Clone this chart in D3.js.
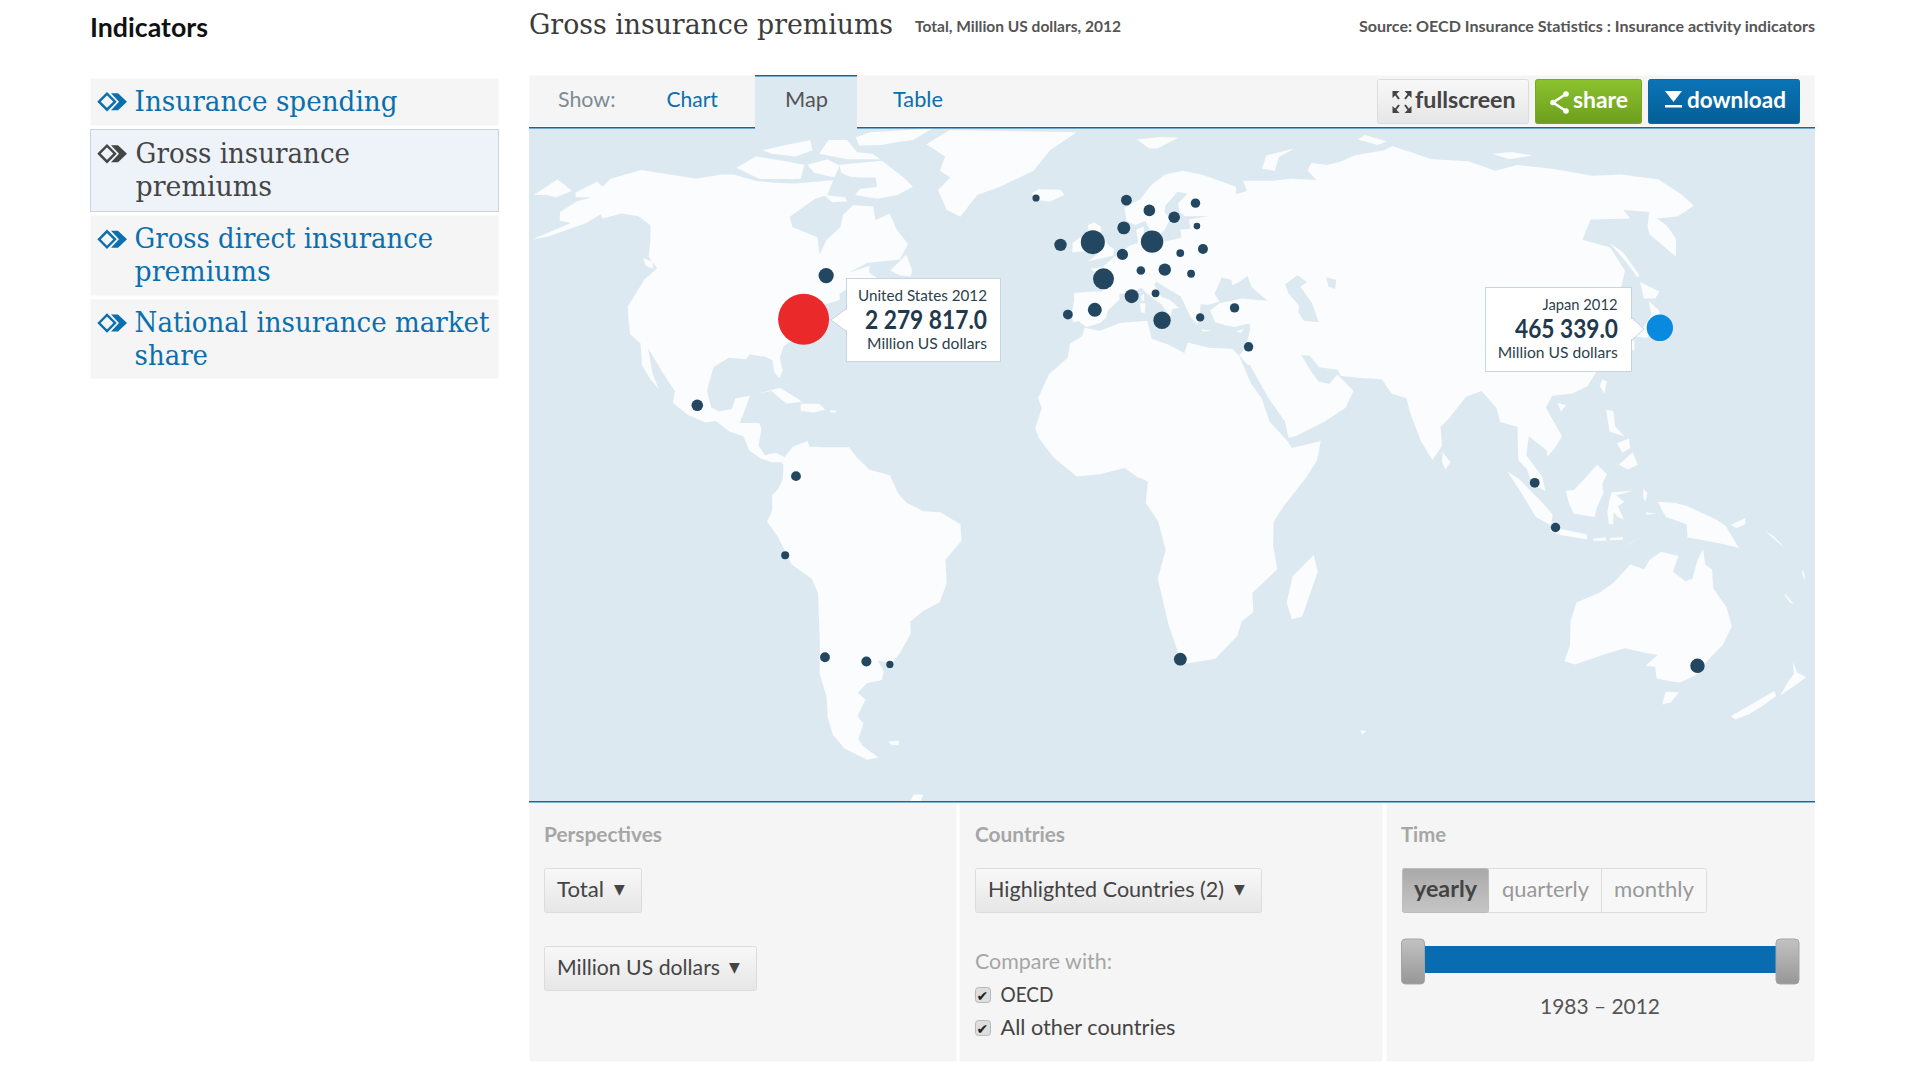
<!DOCTYPE html>
<html>
<head>
<meta charset="utf-8">
<title>Gross insurance premiums</title>
<script src="https://cdn.jsdelivr.net/npm/d3@7"></script>
<style>
html, body { margin: 0; padding: 0; background: #fff; }
svg { display: block; }
</style>
</head>
<body>
<div id="page"></div>
<script>
var countries = ["Canada","Mexico","Colombia","Iceland","Norway","Sweden","Finland","Estonia","Latvia","Denmark","Germany","United Kingdom","Ireland","Netherlands","Poland","Czech Republic","Austria","Luxembourg","Hungary","France","Italy","Spain","Portugal","Switzerland","Slovenia","Greece","Turkey","Israel","Malaysia","Indonesia","South Africa","Australia","Peru","Chile","Argentina","Uruguay"];
var lons = [-75.8,-99.5,-74.4,-22.4,5.7,12.5,19.7,26.9,26,4.6,12.5,-4.3,-13.4,4,26.6,20.1,15.4,8.9,22.4,-1.2,13.8,-3.4,-10.3,6.2,12.5,23.6,32.7,35.1,101.7,106.8,18.2,149.1,-77.4,-71.1,-60.9,-55.1];
var lats = [46.9,19.5,4.6,64.3,63.8,61.4,59.8,63.1,57.8,57.4,54.3,54.2,53.6,51.5,52.7,51.8,48.2,48,47.3,46.2,37.4,39.6,38.6,42.5,43.1,38,40,31.8,3.2,-6.2,-33.9,-35.3,-12.05,-33.5,-34.4,-35];
var values = [123000,63800,42500,20200,53700,63800,63800,38400,16300,83900,312000,369000,74800,58600,44600,24400,74800,31000,24400,267000,170000,100000,42500,100000,24400,29200,38400,38400,42500,38400,80900,108000,26000,42500,44600,20200];

var highlighted = ["United States", "Japan"];
var highlightedLons = [-77.8, 139.9];
var highlightedLats = [37.6, 35.8];
var highlightedValues = [2279817, 465339];
var highlightedText = ["2 279 817.0", "465 339.0"];

// Robinson table
var robinsonLat = [0,5,10,15,20,25,30,35,40,45,50,55,60,65,70,75,80,85,90];
var robinsonX = [1,.9986,.9954,.99,.9822,.973,.96,.9427,.9216,.8962,.8679,.835,.7986,.7597,.7186,.6732,.6213,.5722,.5322];
var robinsonY = [0,.062,.124,.186,.248,.31,.372,.434,.4958,.5571,.6176,.6769,.7346,.7903,.8435,.8936,.9394,.9761,1];

// land outlines, lon / lat
var northAmerica = [[-168,65.6],[-166,68.3],[-162,67],[-163,69],[-157,71.2],[-150,70.5],[-141,69.6],[-135,69],[-128,70],[-124,70],[-115,68.5],[-108,68],[-101,67.8],[-96,68.2],[-89.6,68.6],[-88,65],[-91,64.1],[-94.8,59.9],[-92.1,57.6],[-83.1,55.3],[-80,51.5],[-80.1,54.6],[-78.1,57.6],[-79.3,60.4],[-78,62.6],[-71.6,62.3],[-68.9,59.2],[-65.5,60.6],[-61.2,56.9],[-56.5,53.8],[-57.3,50.4],[-66,49.6],[-70,47.5],[-65,49],[-64.5,47.5],[-61,46],[-63.5,44.7],[-66,43.6],[-66.5,45],[-69,44],[-70.5,43],[-70,41.7],[-74,40.5],[-75.5,38],[-76,35],[-78,34],[-81,32],[-81.3,29.5],[-80,26.8],[-80.5,25.2],[-82,26.5],[-83,29],[-85,29.7],[-89,30.2],[-89.5,29.2],[-94,29.5],[-97.2,27.5],[-97.7,22.5],[-96,19],[-94,18.2],[-91,18.7],[-90.5,21],[-87,21.5],[-88,18],[-88.7,15.8],[-84,15.8],[-83.3,14.5],[-83.7,11],[-82,9],[-79.5,9.5],[-77.3,8.6],[-78,7.5],[-80.3,7.5],[-83,8.3],[-85.8,10],[-87.5,13],[-91,14],[-94.5,16.2],[-97,15.9],[-101.5,17.5],[-105.5,20],[-105.5,22.5],[-109,26],[-112.5,29.5],[-114.7,31.5],[-112,26.5],[-109.6,23],[-112,25],[-115,28],[-117,32.5],[-120.5,34.5],[-122.5,37.5],[-124.3,40.3],[-124,46],[-122.5,48.5],[-127,51],[-130,54.5],[-134,58],[-140,60],[-146,60.7],[-150,59.5],[-152,60.5],[-153.5,58.5],[-160,55.5],[-164,54.7],[-158,58.5],[-162,59],[-165,61],[-164,63.5],[-161,64.5],[-166,64.5]];
var southAmerica = [[-77.3,8.6],[-75.5,10.8],[-72,12],[-71.5,10.8],[-68,10.7],[-62,10.7],[-60,8.5],[-57,6],[-52,4.8],[-50,1],[-48,-1],[-44,-2.8],[-40,-3],[-35.2,-5.5],[-35,-9],[-39,-13],[-39,-18],[-41,-22],[-45,-23.7],[-48.5,-26],[-48.7,-28.5],[-52,-32.5],[-54.5,-34.8],[-58,-34.2],[-57,-36.5],[-58,-38.3],[-62,-39],[-65,-41],[-63.5,-42.5],[-67,-46],[-66,-47.5],[-69,-51],[-68.5,-52.5],[-65.5,-55],[-69,-55.5],[-74,-53],[-75.5,-50],[-75,-46],[-73.5,-42],[-73.5,-37],[-71.5,-30],[-70.3,-20],[-71.5,-17],[-76,-14],[-79,-8],[-81.3,-5],[-80,-2.5],[-80,0.5],[-78.5,2],[-77.5,4],[-77.5,7],[-78,7.5]];
var eurasia = [[-9.3,38.7],[-8.8,41.8],[-9,43.2],[-4,43.5],[-1.5,43.5],[-1.2,46],[-4.7,48.4],[-1.5,48.7],[1.5,50.8],[4,52],[6,53.4],[8.5,54],[8.2,57],[10.5,57.7],[10,54.8],[11,54],[14,54],[18.5,54.7],[21,55.2],[21,57],[24,57.2],[24,59.3],[30,60],[23,60],[21.5,61],[21.5,63],[25,65.3],[22,65.8],[17.5,62.5],[17,61],[18.5,59.5],[16.5,57],[14.5,55.7],[13,55.4],[11,59],[8,58],[5.5,59],[5,62],[10,64],[14,67.5],[19,70],[25,71],[31,70],[41,67],[40,64.8],[38,64.7],[44,66],[44,68.5],[54,68.5],[60,69],[68,68.7],[67,71],[70,73],[75,72.5],[81,73.5],[87,75],[100,76.5],[105,77.7],[113,74],[125,73.5],[130,71],[140,72.5],[150,71.5],[160,69.7],[170,70],[180,68.8],[180,65],[179,62.5],[170,60],[163,59.5],[163.5,58],[162,55],[157,51],[155.7,56],[158,58],[163,61],[156,61.5],[155,59.5],[143,59.3],[135,54.7],[141,53],[140,48],[135,43.5],[130.5,42.5],[127.5,39.8],[129.5,36.5],[127,34.5],[126.3,37],[125,39.7],[121.5,39],[118,39],[122.5,37],[119.5,35],[121.8,31],[120,26.5],[117,23.5],[113,22],[108,21.5],[106,19],[109,13],[107,10.5],[105,8.7],[105,10],[101,13],[100,9],[103.5,4.5],[104.2,1.4],[101,3],[100,6],[98,8],[98.5,15],[94.5,16],[94,19],[91,22.5],[87,21.3],[82,16.5],[80,15],[80,11],[77.5,8],[75,12],[73,18],[72.5,21],[69,22],[67,25],[61,25.3],[57,25.7],[56.5,27],[52,27.5],[50,30],[48,30],[50,26.5],[51.5,24.5],[54,24],[56.3,26],[59.8,22.5],[57.5,19],[52,16],[45,13],[43.3,12.7],[42.7,16],[39,21],[35,28],[34.5,28],[32.5,30],[34.2,31.3],[36,35.5],[36,36.7],[32,36],[30,36.3],[27.3,37],[26.3,39.5],[29,41],[35,42],[41.5,41.5],[38,44.5],[37.5,46.8],[35,45.5],[33,44.8],[33,46],[30.5,46.5],[28,43],[29,41.3],[26,40.7],[24,40.8],[23.5,38],[22.8,36.5],[21.2,38],[19.5,41.5],[19,42.5],[14,45],[13,45.7],[12.3,45],[14,42.3],[16,41.8],[18.4,40],[16.6,39.8],[15.8,38],[14,40.7],[11,42.5],[8.8,44.3],[6,43.1],[3,43],[3,41.8],[0,39.5],[-0.5,38],[-2,36.8],[-5.5,36],[-7.5,37.2],[-9,37]];
var africa = [[-5.9,35.8],[-2,35.2],[3,36.8],[10,37.3],[11,33.5],[15,32.3],[19,30.5],[20,32.7],[25,31.6],[31,31.4],[32.5,30],[35,24],[37.3,21],[39,16],[43,12],[44,10.5],[51,12],[50,8],[47,4],[42,-1.5],[39.5,-5],[39.5,-10],[40.7,-15],[35,-20],[35.5,-24],[32.8,-26],[32,-29],[27,-33.8],[20,-34.8],[18.3,-34],[15,-27],[12,-17],[13.8,-11],[12,-5],[9,-1],[9.5,3.5],[7,4.4],[4,6.3],[-2,5],[-7.5,4.5],[-13,8.5],[-16.5,12.5],[-17.5,14.7],[-16,19],[-17,21],[-14.5,26],[-10,29.5],[-9.5,32.5],[-6.5,34]];
var australia = [[114,-22],[113.5,-26],[115,-31],[115,-34.3],[118,-35],[124,-33],[129,-31.6],[134,-32.5],[137.8,-33],[136,-35.3],[138.5,-35.5],[140.5,-38],[144,-38.5],[147,-38.8],[150,-37.3],[151.2,-33.8],[153,-31],[153.5,-27],[150.8,-23],[146.5,-19],[145.3,-15],[143.5,-14],[142.5,-10.8],[141.5,-13],[141,-17],[139.5,-17.5],[136,-15.5],[136.8,-12.2],[132.5,-11.3],[130,-13],[129,-15],[125.5,-14],[122,-18],[119,-20]];
var greenland = [[-63.5,82.8],[-12.4,82],[-21,76.5],[-25,71],[-34.6,67],[-41,65],[-44,59.9],[-48.8,61.5],[-54,66.2],[-51.8,69.3],[-56.4,71],[-57.4,74.7],[-67.5,78.2]];
var islands = [
  [[-180,68.8],[-175,67.5],[-170,66],[-172,64.5],[-176,65],[-180,65]],
  [[-92,72.6],[-78.5,73.6],[-67.2,69.3],[-62.5,67],[-66,65],[-71.7,64.1],[-79.3,65],[-79,66.5],[-74,67],[-76.4,69.3],[-81.3,69.3],[-85,69.5],[-89,70.5]],
  [[-126,71.8],[-124,74.7],[-113,73.6],[-104,72.6],[-100.6,68.9],[-114,68.9]],
  [[-125,76.5],[-120,77.8],[-113,79.4],[-107,76.5],[-110,74.7],[-120,75.5]],
  [[-103,72.6],[-98,74],[-91.5,72.3],[-90,69.3],[-98,70.5]],
  [[-103,75.5],[-106,79.4],[-99,79.4],[-90,75.9],[-84,75.5],[-79.5,74],[-91,74]],
  [[-97,80.2],[-94,82],[-71,83.3],[-74,79.4],[-79,78.8],[-84,78],[-92,77.8]],
  [[-89,65],[-82,64.5],[-80.5,63.5],[-85,63.3]],
  [[-59,48],[-56,51.5],[-53,48],[-53,46.7],[-56,47]],
  [[-128.3,50.7],[-125,50],[-123.5,48.4],[-126,49]],
  [[-85,22],[-80,23.2],[-75,20.7],[-74.2,20.2],[-78,19.9],[-82,22.5]],
  [[-74.5,19.8],[-70,19.8],[-68.4,18.6],[-71,18],[-74.3,18.3]],
  [[-67.2,18.5],[-65.6,18.4],[-65.8,18],[-67.2,18]],
  [[-61,-51.5],[-58,-51.3],[-58.5,-52.3],[-60.5,-52.2]],
  [[-60,-63.5],[-57,-63.5],[-60,-66],[-66,-68]],
  [[49.3,-12],[50.5,-15.5],[47.5,-25],[45,-25.5],[43.5,-22],[44.5,-16.5]],
  [[-5.5,50],[1.4,51.2],[1.7,52.7],[0,53.5],[-2,56],[-2,57.6],[-4,58.6],[-6,58],[-5,55],[-3,54],[-5,52],[-3,51.4]],
  [[-10,52],[-6.2,52.2],[-6,54.5],[-8,55.2],[-10,54]],
  [[-24,65.5],[-22,66.4],[-15,66.3],[-13.7,65],[-18,63.4],[-22.5,63.9]],
  [[11,79.5],[20,80.3],[27,80],[18,77],[15,77]],
  [[52,71.5],[56,75],[68,77],[60,74.5],[56,71]],
  [[95,79.5],[100,81],[105,79],[100,78]],
  [[137,75.5],[145,76],[150,75],[140,74]],
  [[142,54],[143.5,52],[143,47],[142,46.5],[142,50]],
  [[140.8,41.5],[142,39.5],[140.8,35.7],[137,34.6],[135.5,33.7],[132,34],[131,34.5],[136,36],[139.5,38.5]],
  [[140,42],[141.8,45.5],[145.3,43.5],[143,42]],
  [[130,33.5],[132,33],[131,31],[130,31.5]],
  [[121,25],[122,24.5],[120.8,22],[120,23.5]],
  [[109,20],[111,19.5],[109.5,18.2]],
  [[80,9.7],[81.8,7.5],[80.5,6],[79.8,7.5]],
  [[120.5,18.5],[122.2,18.3],[122,15],[124,13],[120.5,14]],
  [[122,7],[125.5,9.7],[126.5,7],[124,6]],
  [[122,11.5],[125,12.5],[125,10.5],[123,9.5]],
  [[95.3,5.6],[98,4],[103.5,-1],[106,-3.5],[105.7,-5.8],[102,-4],[98.5,1]],
  [[105.3,-6.8],[108,-6.5],[114.5,-7.7],[114.4,-8.7],[108,-7.8]],
  [[116,-8.5],[119,-8.3],[119,-9],[116,-9]],
  [[120,-8.4],[123,-8.2],[123,-8.8],[120,-8.9]],
  [[123.5,-10.2],[127,-8.4],[125,-9.5]],
  [[109,1.5],[111,1.7],[113,3.5],[116.8,7],[119,5],[117.8,3],[118,1],[116.5,-2],[116,-4],[111,-3.3],[110,-1.5]],
  [[119.5,0],[120,1.2],[125,1.5],[121,0.5],[123,-0.8],[121.5,-1.8],[123,-4.5],[121.5,-4],[120.5,-3],[120.5,-5.5],[119.5,-5.5],[119,-3]],
  [[131,-0.8],[135,-1],[138,-1.7],[145,-4.5],[147.5,-6],[151,-10.5],[147,-9.7],[143,-9],[138.5,-8.3],[138,-5.5],[133,-4],[132,-2.5]],
  [[148.5,-5.7],[152,-4.2],[152,-5.5],[150,-6.3]],
  [[157,-7],[160,-9.2],[162,-10.5],[159,-8]],
  [[127.5,2],[128.5,1],[128,-0.8],[127.5,0]],
  [[128,-3],[130.7,-3.3],[128.5,-3.5]],
  [[167,-15],[167.8,-16],[168.3,-17.5],[167.3,-16]],
  [[164,-20],[167,-22.3],[166,-22],[164.2,-20.4]],
  [[144.7,-40.8],[148.3,-40.9],[147.9,-43],[146,-43.5]],
  [[166.5,-46],[168.5,-46.7],[171,-45.5],[173,-43.5],[174.3,-41.7],[172.7,-40.6],[170,-43]],
  [[172.7,-34.5],[175.5,-36.7],[178.5,-37.7],[177,-39.5],[175.3,-41.6],[174.7,-39],[174.8,-37]],
  [[68.8,-49],[70.5,-49.2],[69.7,-50]],
  [[12.5,38],[15.6,38.2],[15,36.7]],
  [[8.3,41],[9.7,41],[9.5,39],[8.5,39]],
  [[8.6,42.5],[9.5,43],[9.4,41.5],[8.8,41.5]],
  [[23.5,35.5],[26.3,35.2],[24,35]],
  [[32.3,35],[34.5,35.6],[33.5,34.7]]
];
var inlandSeas = [
  [[47,45],[51,47],[53,45.5],[51,44.5],[53,41],[53.7,37],[50,37.3],[49,39],[49.5,40.5],[47.5,43]],
  [[58.5,46.5],[61,46],[60,44],[58.5,44.5]]
];

// page text
var indicators = [
  {lines: ["Insurance spending"], ends: [397.5], base: [110.7], y0: 78, y1: 126},
  {lines: ["Gross insurance", "premiums"], ends: [350, 272], base: [162.7, 195.7], y0: 129, y1: 212, active: true},
  {lines: ["Gross direct insurance", "premiums"], ends: [433, 270.7], base: [248.3, 281], y0: 215, y1: 296},
  {lines: ["National insurance market", "share"], ends: [489.4, 208], base: [332, 365.3], y0: 299, y1: 379}
];
var years = [1983, 2012];

var sans = "Lato, 'Noto Sans', sans-serif";
var serif = "'DejaVu Serif', serif";

var svg = d3.select("#page").append("svg")
    .attr("width", 1920)
    .attr("height", 1080);

var defs = svg.append("defs");

function gradient(id, top, bottom) {
    var g = defs.append("linearGradient").attr("id", id).attr("x1", 0).attr("x2", 0).attr("y1", 0).attr("y2", 1);
    g.append("stop").attr("offset", "0%").attr("stop-color", top);
    g.append("stop").attr("offset", "100%").attr("stop-color", bottom);
}
gradient("btnGrey", "#f8f8f8", "#e6e6e6");
gradient("btnGreen", "#8dc22f", "#6b9f1d");
gradient("btnBlue", "#0b74b6", "#045e96");
gradient("btnDark", "#a9a9a9", "#c6c6c6");
gradient("handle", "#c2c2c2", "#979797");

// text helper, width is forced to what was measured on the reference
function label(x, y, str, size, fill, width, opts) {
    opts = opts || {};
    var t = svg.append("text")
        .attr("x", x)
        .attr("y", y)
        .style("font-family", opts.family || sans)
        .style("font-size", size + "px")
        .style("font-weight", opts.weight || 400)
        .style("fill", fill)
        .text(str);
    if (width) t.attr("textLength", width).attr("lengthAdjust", "spacingAndGlyphs");
    return t;
}

function box(x, y, w, h, fill, stroke, rx) {
    return svg.append("rect")
        .attr("x", x + 0.5).attr("y", y + 0.5)
        .attr("width", w - 1).attr("height", h - 1)
        .attr("rx", rx || 0)
        .style("fill", fill)
        .style("stroke", stroke || "none");
}

// header
label(90, 37, "Indicators", 26, "#111", 118, {weight: 700});
label(529, 34, "Gross insurance premiums", 28, "#3c3c3c", 364, {family: serif});
label(915, 31.5, "Total, Million US dollars, 2012", 15.5, "#555", 206, {weight: 700});
label(1359, 31.5, "Source: OECD Insurance Statistics : Insurance activity indicators", 15.5, "#555", 456, {weight: 700});

// sidebar
indicators.forEach(function(d) {
    box(90, d.y0, 409, d.y1 - d.y0, d.active ? "#edf3f9" : "#f5f5f5", d.active ? "#c8d5e1" : null);
    var col = d.active ? "#454545" : "#0a6fae";
    var cx = 113, cy = d.base[0] - 9;
    svg.append("path")
        .attr("d", "M" + (cx - 14) + "," + cy + "L" + (cx - 6) + "," + (cy - 8) + "L" + (cx + 2) + "," + cy + "L" + (cx - 6) + "," + (cy + 8) + "Z")
        .style("fill", "none").style("stroke", col).style("stroke-width", 2.4);
    svg.append("path")
        .attr("d", "M" + (cx - 2) + "," + (cy - 8.5) + "L" + (cx + 6) + "," + cy + "L" + (cx - 2) + "," + (cy + 8.5) + "L" + (cx + 5) + "," + (cy + 8.5) + "L" + (cx + 14) + "," + cy + "L" + (cx + 5) + "," + (cy - 8.5) + "Z")
        .style("fill", col);
    d.lines.forEach(function(line, i) {
        var x0 = d.active ? 135.6 : 134.6;
        label(x0, d.base[i], line, 28, col, d.ends[i] - x0, {family: serif});
    });
});

// tab bar
box(529, 75, 1286, 52, "#f5f5f5");
svg.append("rect").attr("x", 755).attr("y", 75).attr("width", 102).attr("height", 53).style("fill", "#dde9f1");
svg.append("rect").attr("x", 755).attr("y", 75).attr("width", 102).attr("height", 1.5).style("fill", "#0a6ba8");
label(558, 107, "Show:", 22, "#7f8b93", 57.5);
label(666.5, 107, "Chart", 22, "#0a6fae", 51.4);
label(785, 107, "Map", 22, "#555", 43);
label(893, 107, "Table", 22, "#0a6fae", 50);

// the map
var mapX = 529, mapY = 127.5, mapW = 1286, mapH = 673.5;

function robinsonRaw(lambda, phi) {
    var deg = Math.abs(phi) * 180 / Math.PI;
    var i = Math.min(Math.floor(deg / 5), 17);
    var f = (deg - robinsonLat[i]) / 5;
    var xx = robinsonX[i] + (robinsonX[i + 1] - robinsonX[i]) * f;
    var yy = robinsonY[i] + (robinsonY[i + 1] - robinsonY[i]) * f;
    return [0.8487 * xx * lambda, 1.3523 * yy * (phi < 0 ? 1 : -1) * -1];
}

var projection = d3.geoProjection(robinsonRaw)
    .scale(283.5)
    .translate([1108, 498]);

var shape = d3.line().curve(d3.curveLinearClosed);
function landPath(poly) {
    return shape(poly.map(function(p) { return projection(p); }));
}

defs.append("clipPath").attr("id", "mapClip").append("rect")
    .attr("x", mapX).attr("y", mapY).attr("width", mapW).attr("height", mapH);

var map = svg.append("g").attr("clip-path", "url(#mapClip)");
map.append("rect").attr("x", mapX).attr("y", mapY).attr("width", mapW).attr("height", mapH).style("fill", "#dde9f1");

map.selectAll(".land")
    .data([northAmerica, southAmerica, eurasia, africa, australia, greenland].concat(islands))
    .enter().append("path")
    .attr("class", "land")
    .attr("d", landPath)
    .style("fill", "#fafcfd");

map.selectAll(".sea")
    .data(inlandSeas)
    .enter().append("path")
    .attr("class", "sea")
    .attr("d", landPath)
    .style("fill", "#dde9f1");

svg.append("rect").attr("x", mapX).attr("y", 127).attr("width", 226).attr("height", 1.5).style("fill", "#0a6ba8");
svg.append("rect").attr("x", 857).attr("y", 127).attr("width", 958).attr("height", 1.5).style("fill", "#0a6ba8");
svg.append("rect").attr("x", mapX).attr("y", 801).attr("width", mapW).attr("height", 1.5).style("fill", "#0a6ba8");

// bubbles
var radius = d3.scalePow().exponent(0.414).domain([0, 2279817]).range([0, 25.5]);

var bubbles = countries.map(function(c, i) {
    return {name: c, lon: lons[i], lat: lats[i], value: values[i]};
});

map.selectAll(".bubble")
    .data(bubbles)
    .enter().append("circle")
    .attr("class", "bubble")
    .attr("cx", function(d) { return projection([d.lon, d.lat])[0]; })
    .attr("cy", function(d) { return projection([d.lon, d.lat])[1]; })
    .attr("r", function(d) { return radius(d.value); })
    .style("fill", "#234760")
    .append("title").text(function(d) { return d.name; });

var hiColor = ["#ea2a2a", "#0a8adf"];
map.selectAll(".hi")
    .data(highlighted)
    .enter().append("circle")
    .attr("class", "hi")
    .attr("cx", function(d, i) { return projection([highlightedLons[i], highlightedLats[i]])[0]; })
    .attr("cy", function(d, i) { return projection([highlightedLons[i], highlightedLats[i]])[1]; })
    .attr("r", function(d, i) { return radius(highlightedValues[i]); })
    .style("fill", function(d, i) { return hiColor[i]; });

// tooltips
function tooltip(x, y, w, h, tip, lines) {
    var side = tip[0] < x ? x : x + w;
    svg.append("rect").attr("x", x + 0.5).attr("y", y + 0.5).attr("width", w - 1).attr("height", h - 1)
        .style("fill", "#fff").style("stroke", "#c6d5e1");
    svg.append("path")
        .attr("d", "M" + side + "," + (tip[1] - 11) + "L" + tip[0] + "," + tip[1] + "L" + side + "," + (tip[1] + 11))
        .style("fill", "#fff").style("stroke", "#c6d5e1");
    svg.append("rect").attr("x", side - 1).attr("y", tip[1] - 10).attr("width", 2).attr("height", 20).style("fill", "#fff");
    lines.forEach(function(l) {
        label(l[0], l[1], l[2], l[3], l[4], l[5], {weight: l[6] || 400});
    });
}
tooltip(846, 278, 155, 84, [831, 320], [
    [858, 301, highlighted[0] + " " + years[1], 16, "#2c3f4c", 129],
    [865, 329, highlightedText[0], 26, "#1f3a4d", 122, 700],
    [867, 349, "Million US dollars", 16, "#2c3f4c", 120]
]);
tooltip(1485, 287, 147, 85, [1644, 329], [
    [1542.5, 310, highlighted[1] + " " + years[1], 16, "#2c3f4c", 75],
    [1515, 338, highlightedText[1], 26, "#1f3a4d", 103, 700],
    [1497.7, 358, "Million US dollars", 16, "#2c3f4c", 120]
]);

// buttons top right
box(1377, 79, 152, 45, "url(#btnGrey)", "#dcdcdc", 2);
box(1535, 79, 107, 45, "url(#btnGreen)", "#7aa824", 2);
box(1648, 79, 152, 45, "url(#btnBlue)", "#0a6aa6", 2);
label(1415, 108, "fullscreen", 23, "#444", 100.6, {weight: 700});
label(1573, 108, "share", 23, "#fff", 55, {weight: 700});
label(1687, 108, "download", 23, "#fff", 99, {weight: 700});

// fullscreen arrows
[[1, 1], [-1, 1], [1, -1], [-1, -1]].forEach(function(a) {
    var ax = 1402 + a[0] * 9.5, ay = 102 + a[1] * 11;
    svg.append("path")
        .attr("d", "M" + ax + "," + ay + "l" + (-a[0] * 7) + ",0l" + (a[0] * 7) + "," + (-a[1] * 7) + "Z")
        .style("fill", "#444");
    svg.append("line")
        .attr("x1", ax - a[0] * 2).attr("y1", ay - a[1] * 2)
        .attr("x2", 1402 + a[0] * 3).attr("y2", 102 + a[1] * 3)
        .style("stroke", "#444").style("stroke-width", 2);
});
// share icon
svg.append("path").attr("d", "M1566,94L1553,102.5L1566,111").style("fill", "none").style("stroke", "#fff").style("stroke-width", 2.6);
svg.selectAll(".shareDot").data([[1566, 94], [1553, 102.5], [1566, 111]]).enter().append("circle")
    .attr("cx", function(d) { return d[0]; }).attr("cy", function(d) { return d[1]; }).attr("r", 2.8).style("fill", "#fff");
// download icon
svg.append("path").attr("d", "M1665,91L1682,91L1673.5,102Z").style("fill", "#fff");
svg.append("rect").attr("x", 1665).attr("y", 105).attr("width", 17).attr("height", 2.5).style("fill", "#fff");

// controls below the map
box(529, 802.5, 428, 259.5, "#f5f5f5");
box(959, 802.5, 424, 259.5, "#f5f5f5");
box(1386, 802.5, 429, 259.5, "#f5f5f5");

label(544, 842, "Perspectives", 21, "#a6a6a6", 118, {weight: 700});
label(975, 842, "Countries", 21, "#a6a6a6", 90, {weight: 700});
label(1401, 842, "Time", 21, "#a6a6a6", 45, {weight: 700});

function dropdown(x, y, w, str, tw) {
    box(x, y, w, 45, "url(#btnGrey)", "#dcdcdc", 2);
    label(x + 13, y + 29, str, 22, "#444", tw);
    label(x + w - 28, y + 26, "\u25BC", 14, "#444", null, {family: "'DejaVu Sans', sans-serif"});
}
dropdown(544, 868, 98, "Total", 47);
dropdown(544, 946, 213, "Million US dollars", 163);
dropdown(975, 868, 287, "Highlighted Countries (2)", 236);

label(975, 969, "Compare with:", 21, "#a6a6a6", 137);

function checkbox(y, base, str, tw) {
    box(975, y, 16, 16, "#dedede", "#b8b8b8", 3);
    label(976.5, y + 13.5, "\u2714", 14, "#222", null, {family: "'DejaVu Sans', sans-serif"});
    label(1000.5, base, str, 22, "#444", tw);
}
checkbox(987, 1001.7, "OECD", 53);
checkbox(1020, 1035, "All other countries", 175);

// yearly / quarterly / monthly
box(1402, 868, 305, 45, "#f7f7f7", "#dcdcdc", 2);
box(1402, 868, 87, 45, "url(#btnDark)", "#bdbdbd", 2);
svg.append("line").attr("x1", 1601.5).attr("x2", 1601.5).attr("y1", 868).attr("y2", 913).style("stroke", "#dcdcdc");
label(1414, 897, "yearly", 22, "#444", 63, {weight: 700});
label(1502, 897, "quarterly", 22, "#999", 87);
label(1614, 897, "monthly", 22, "#999", 80);

// time range slider
var timeScale = d3.scaleLinear().domain(years).range([1413, 1787.5]);
svg.append("rect")
    .attr("x", timeScale(years[0])).attr("y", 946)
    .attr("width", timeScale(years[1]) - timeScale(years[0])).attr("height", 27)
    .style("fill", "#0a6cb0");
svg.selectAll(".handle")
    .data(years)
    .enter().append("rect")
    .attr("class", "handle")
    .attr("x", function(d) { return timeScale(d) - 11.5; })
    .attr("y", 939)
    .attr("width", 23).attr("height", 45).attr("rx", 4)
    .style("fill", "url(#handle)")
    .style("stroke", "#a5a5a5");
label(1540, 1014, years[0] + " \u2013 " + years[1], 22, "#555", 120);
</script>
</body>
</html>
